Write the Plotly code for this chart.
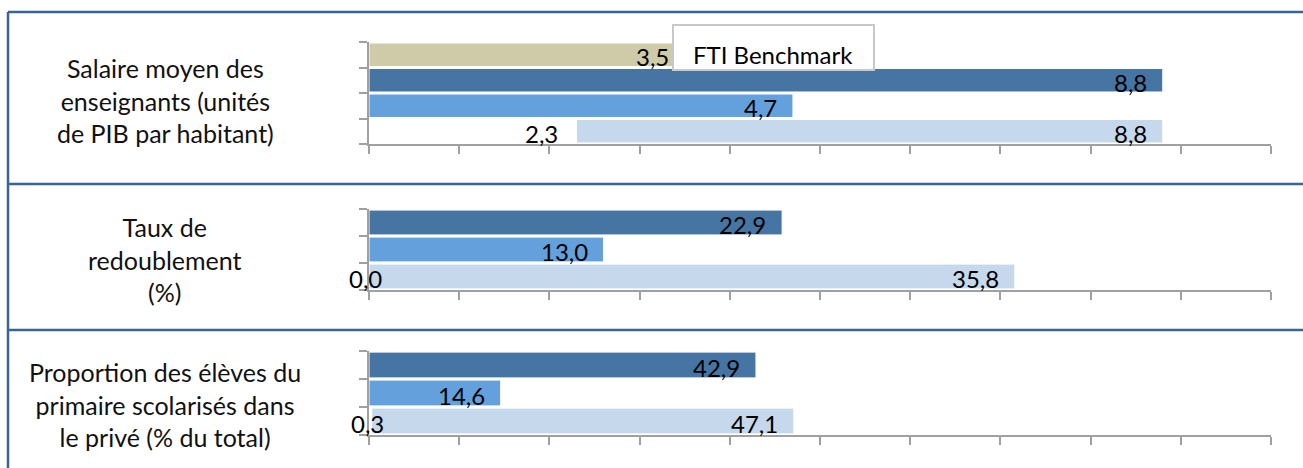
import plotly.graph_objects as go

# ---------------- data ----------------
indicator_lines = [
    ["Salaire moyen des", "enseignants (unités", "de PIB par habitant)"],
    ["Taux de", "redoublement", "(%)"],
    ["Proportion des élèves du", "primaire scolarisés dans", "le privé (% du total)"],
]
benchmark_vals = [3.5, None, None]          # FTI Benchmark (only first indicator)
country_vals = [8.8, 22.9, 42.9]             # dark blue bars
average_vals = [4.7, 13.0, 14.6]             # medium blue bars
range_min = [2.3, 0.0, 0.3]                  # light blue floating bar: start
range_max = [8.8, 35.8, 47.1]                # light blue floating bar: end
axis_max = [10, 50, 100]
axis_step = [1, 5, 10]
benchmark_label = "FTI Benchmark"

# ---------------- style ----------------
W, H = 1303, 468
C_BENCH = "#CFCAA8"
C_DARK = "#4674A3"
C_MED = "#63A0DC"
C_LIGHT = "#C5D8EC"
C_FRAME = "#3A6496"
C_AXIS = "#A0A0A0"
FONT = "Lato"
FS = 24

X0_PX, X1_PX = 369, 1271
panel_px = [(42, 144), (209, 290), (351, 435)]   # top, bottom (pixels)
label_center_px = [100, 259, 404]


def px_x(p):
    return p / W


def px_y(p):
    return 1 - p / H


def fmt(v):
    return f"{v:.1f}".replace(".", ",")


fig = go.Figure()
annotations = []
shapes = []
layout_axes = {}

for i in range(3):
    n = i + 1
    xa = "x" if n == 1 else f"x{n}"
    ya = "y" if n == 1 else f"y{n}"
    cats = []
    if benchmark_vals[i] is not None:
        cats.append("bench")
    cats += ["pays", "moyenne", "intervalle"]

    bars = []
    if benchmark_vals[i] is not None:
        bars.append(("bench", 0, benchmark_vals[i], C_BENCH, benchmark_vals[i]))
    bars.append(("pays", 0, country_vals[i], C_DARK, country_vals[i]))
    bars.append(("moyenne", 0, average_vals[i], C_MED, average_vals[i]))
    bars.append(("intervalle", range_min[i], range_max[i] - range_min[i], C_LIGHT, range_max[i]))

    for cat, base, length, color, end in bars:
        fig.add_trace(go.Bar(
            x=[length], y=[cat], base=[base], orientation="h",
            marker=dict(color=color, line=dict(color="white", width=1)),
            xaxis=xa, yaxis=ya, showlegend=False, hoverinfo="skip",
        ))
        annotations.append(dict(
            x=end, y=cat, xref=xa, yref=ya, text=fmt(end), showarrow=False,
            xanchor="right", yanchor="middle", xshift=-14, yshift=-2,
            font=dict(family=FONT, size=FS, color="black"),
        ))

    # label of the floating bar's start
    start_px = range_min[i] / axis_max[i] * (X1_PX - X0_PX)
    if start_px > 50:
        annotations.append(dict(
            x=range_min[i], y="intervalle", xref=xa, yref=ya, text=fmt(range_min[i]),
            showarrow=False, xanchor="right", yanchor="middle", xshift=-16, yshift=-2,
            font=dict(family=FONT, size=FS, color="black")))
    else:
        annotations.append(dict(
            x=range_min[i], y="intervalle", xref=xa, yref=ya, text=fmt(range_min[i]),
            showarrow=False, xanchor="center", yanchor="middle", xshift=-4, yshift=-2,
            font=dict(family=FONT, size=FS, color="black")))

    top, bot = panel_px[i]
    xkey = "xaxis" if n == 1 else f"xaxis{n}"
    ykey = "yaxis" if n == 1 else f"yaxis{n}"
    layout_axes[xkey] = dict(
        domain=[px_x(X0_PX), px_x(X1_PX)], range=[0, axis_max[i]], dtick=axis_step[i],
        tick0=0, anchor=ya, showline=True, linecolor=C_AXIS, linewidth=1.5,
        ticks="outside", ticklen=8, tickwidth=1.5, tickcolor=C_AXIS,
        showticklabels=False, showgrid=False, zeroline=False, fixedrange=True,
    )
    layout_axes[ykey] = dict(
        domain=[px_y(bot), px_y(top)], type="category", categoryorder="array",
        categoryarray=list(reversed(cats)), range=[-0.5, len(cats) - 0.5],
        anchor=xa, showline=True,
        linecolor=C_AXIS, linewidth=1.5, ticks="outside", tickson="boundaries",
        ticklen=8, tickwidth=1.5, tickcolor=C_AXIS, showticklabels=False,
        showgrid=False, zeroline=False, fixedrange=True,
    )

    # indicator label on the left
    annotations.append(dict(
        x=px_x(165), y=px_y(label_center_px[i]), xref="paper", yref="paper",
        text="<br>".join(indicator_lines[i]), showarrow=False, align="center",
        xanchor="center", yanchor="middle",
        font=dict(family=FONT, size=25, color="#111111"),
    ))

# frame lines
for yp in [12, 184, 330]:
    shapes.append(dict(type="line", xref="paper", yref="paper",
                       x0=px_x(8), x1=1, y0=px_y(yp), y1=px_y(yp),
                       line=dict(color=C_FRAME, width=2.5)))
shapes.append(dict(type="line", xref="paper", yref="paper",
                   x0=px_x(8), x1=px_x(8), y0=px_y(12), y1=0,
                   line=dict(color=C_FRAME, width=2.5)))
# benchmark legend box
shapes.append(dict(type="rect", xref="paper", yref="paper", layer="above",
                   x0=px_x(673), x1=px_x(874), y0=px_y(70), y1=px_y(25),
                   fillcolor="white", line=dict(color="#C8C8C8", width=2)))
annotations.append(dict(
    x=px_x(773), y=px_y(54), xref="paper", yref="paper", text=benchmark_label,
    showarrow=False, xanchor="center", yanchor="middle",
    font=dict(family=FONT, size=FS, color="black")))

fig.update_layout(
    width=W, height=H, margin=dict(l=0, r=0, t=0, b=0),
    paper_bgcolor="white", plot_bgcolor="rgba(0,0,0,0)",
    barmode="overlay", bargap=0.08,
    annotations=annotations, shapes=shapes, **layout_axes,
)

fig.write_html(
    "out.html",
    config={"displayModeBar": False},
    post_script="document.body.style.margin='0';document.body.style.overflow='hidden';",
)
